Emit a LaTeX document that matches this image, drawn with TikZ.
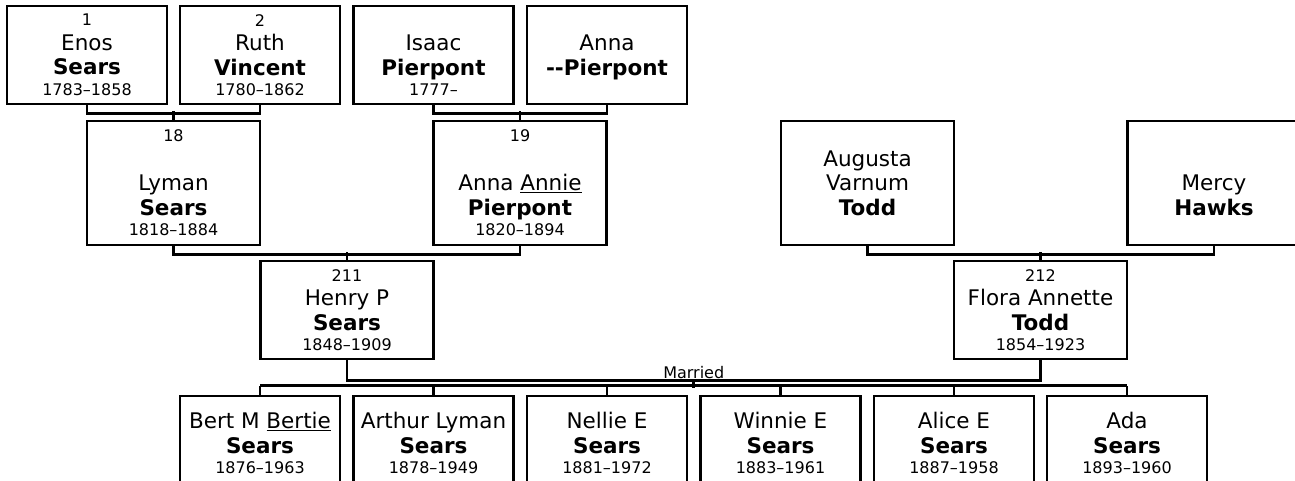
\documentclass[tikz,border=0pt]{standalone}
\usepackage{fontspec}
\setmainfont{DejaVu Sans}
\usepackage{tikz}
\usetikzlibrary{calc}

\newcommand{\smalltxt}{\fontsize{16}{20}\selectfont}
\newcommand{\pnum}[1]{{\smalltxt #1}}
\newcommand{\blankrow}{\pnum{\phantom{1}}}

\tikzset{
  pbox/.style={draw, line width=2.8pt, align=center, inner sep=0pt,
    font=\fontsize{21.5}{24.5}\selectfont},
  narrow/.style={pbox, minimum width=160pt, minimum height=98pt},
  kid/.style={pbox, minimum width=160pt, minimum height=94pt},
  wide/.style={pbox, minimum width=173pt, minimum height=98pt},
  tall/.style={pbox, minimum width=173pt, minimum height=124pt},
  link/.style={line width=2.8pt},
}

\begin{document}
\begin{tikzpicture}[x=1pt, y=-1pt]
  \useasboundingbox (0,0) rectangle (1295,481);

  % --- great-grandparents ---
  \node[narrow] (enos) at (87,55) {\pnum{1}\\Enos\\\textbf{Sears}\\[-4pt]\pnum{1783--1858}};
  \node[narrow] (ruth) at (260,55) {\pnum{2}\\Ruth\\\textbf{Vincent}\\[-4pt]\pnum{1780--1862}};
  \node[narrow] (isaac) at (433.5,55) {\blankrow\\Isaac\\\textbf{Pierpont}\\[-4pt]\pnum{1777--}};
  \node[narrow] (annap) at (607,55) {\blankrow\\Anna\\\textbf{-{}-Pierpont}\\[-4pt]\blankrow};

  % --- grandparents ---
  \node[tall] (lyman) at (173.5,183) {\pnum{18}\\\phantom{L}\\Lyman\\\textbf{Sears}\\[-4pt]\pnum{1818--1884}};
  \node[tall] (annie) at (520,183) {\pnum{19}\\\phantom{A}\\Anna \underline{Annie}\\\textbf{Pierpont}\\[-4pt]\pnum{1820--1894}};
  \node[tall] (augusta) at (867.5,183) {\blankrow\\Augusta\\Varnum\\\textbf{Todd}\\[-4pt]\blankrow};
  \node[tall] (mercy) at (1214,183) {\blankrow\\\phantom{M}\\Mercy\\\textbf{Hawks}\\[-4pt]\blankrow};

  % --- parents ---
  \node[wide] (henry) at (347,310) {\pnum{211}\\Henry P\\\textbf{Sears}\\[-4pt]\pnum{1848--1909}};
  \node[wide] (flora) at (1040.5,310) {\pnum{212}\\Flora Annette\\\textbf{Todd}\\[-4pt]\pnum{1854--1923}};

  % --- children ---
  \node[kid] (bert) at (260,443) {Bert M \underline{Bertie}\\\textbf{Sears}\\[-4pt]\pnum{1876--1963}};
  \node[kid] (arthur) at (433.5,443) {Arthur Lyman\\\textbf{Sears}\\[-4pt]\pnum{1878--1949}};
  \node[kid] (nellie) at (607,443) {Nellie E\\\textbf{Sears}\\[-4pt]\pnum{1881--1972}};
  \node[kid] (winnie) at (780.5,443) {Winnie E\\\textbf{Sears}\\[-4pt]\pnum{1883--1961}};
  \node[kid] (alice) at (954,443) {Alice E\\\textbf{Sears}\\[-4pt]\pnum{1887--1958}};
  \node[kid] (ada) at (1127,443) {Ada\\\textbf{Sears}\\[-4pt]\pnum{1893--1960}};

  % couples and their child
  \draw[link] (enos.south) -- ++(0,8) -| (ruth.south);
  \draw[link] (lyman.north) -- ++(0,-9);
  \draw[link] (isaac.south) -- ++(0,8) -| (annap.south);
  \draw[link] (annie.north) -- ++(0,-9);
  \draw[link] (lyman.south) -- ++(0,8) -| (annie.south);
  \draw[link] (henry.north) -- ++(0,-8);
  \draw[link] (augusta.south) -- ++(0,8) -| (mercy.south);
  \draw[link] (flora.north) -- ++(0,-8);

  % marriage line
  \draw[link] (henry.south) -- ++(0,20) -| (flora.south);
  \coordinate (wed) at ($(henry.south)!0.5!(flora.south)+(0,20)$);
  \node[anchor=south, inner sep=1.5pt, font=\smalltxt] (married) at (wed) {Married};

  % children bar
  \draw[link] (wed) -- ++(0,8);
  \draw[link] ($(bert.north)+(0,-9)$) -- ($(ada.north)+(0,-9)$);
  \foreach \kid in {bert,arthur,nellie,winnie,alice,ada}
    \draw[link] (\kid.north) -- ++(0,-9);
\end{tikzpicture}
\end{document}
